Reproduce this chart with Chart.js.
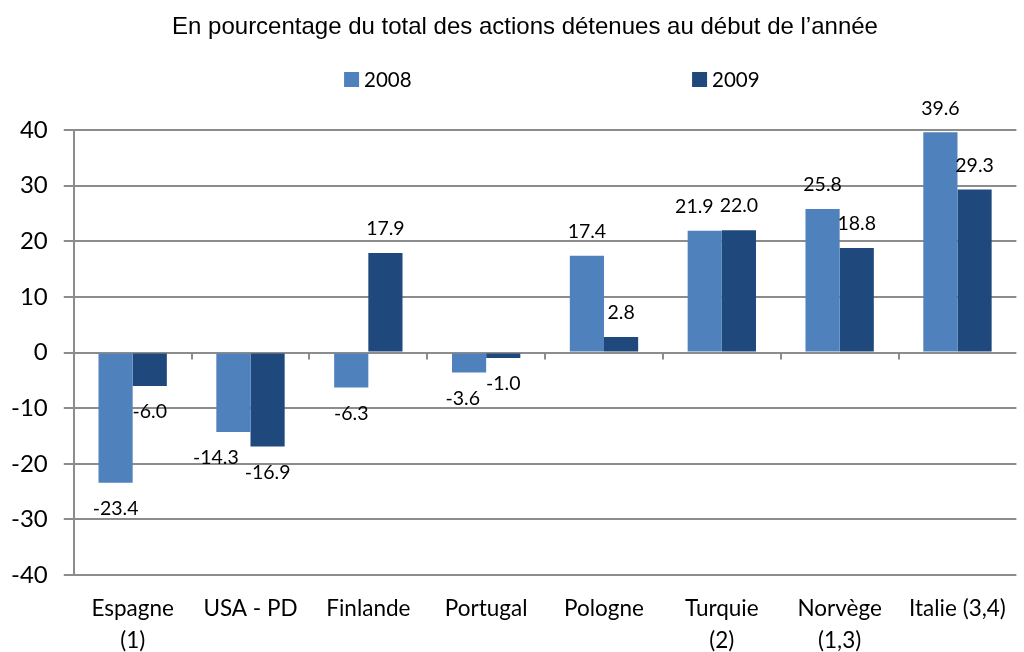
<!DOCTYPE html>
<html>
<head>
<meta charset="utf-8">
<script src="https://cdn.jsdelivr.net/npm/chart.js@4/dist/chart.umd.min.js"></script>
<style>
  html, body { margin: 0; padding: 0; background: #fff; }
  .wrap { width: 1024px; height: 652px; position: relative; }
</style>
</head>
<body>
<div class="wrap"><canvas id="actionsChart"></canvas></div>
<script>
// données
const pays = [
    ['Espagne', '(1)'], 'USA - PD', 'Finlande', 'Portugal', 'Pologne',
    ['Turquie', '(2)'], ['Norvège', '(1,3)'], 'Italie (3,4)'
];
const valeurs2008 = [-23.4, -14.3, -6.3, -3.6, 17.4, 21.9, 25.8, 39.6];
const valeurs2009 = [-6.0, -16.9, 17.9, -1.0, 2.8, 22.0, 18.8, 29.3];
const seriesLabels = ['2008', '2009'];
const yTicks = [-40, -30, -20, -10, 0, 10, 20, 30, 40];
const titre = 'En pourcentage du total des actions détenues au début de l’année';

const couleurs = ['#4F81BD', '#1F497D'];
const gris = '#8c8c8c';
const police = 'Lato, "Open Sans", sans-serif';
const tailleEtiquette = 19.5;

// titre, légende, étiquettes de valeurs et petites graduations sur l'axe zéro
const decorPlugin = {
    id: 'decor',
    afterDatasetsDraw(chart) {
        const ctx = chart.ctx;
        ctx.save();
        ctx.fillStyle = '#000';
        ctx.font = tailleEtiquette + 'px ' + police;
        ctx.textAlign = 'center';
        ctx.textBaseline = 'middle';

        // positions des étiquettes
        const pos = chart.data.datasets.map((ds, i) =>
            chart.getDatasetMeta(i).data.map((bar, j) => {
                const v = ds.data[j];
                const txt = v.toFixed(1);
                return {
                    txt,
                    x: bar.x,
                    y: v >= 0 ? bar.y - 24 : bar.y + 26,
                    w: ctx.measureText(txt).width
                };
            })
        );
        // si les deux étiquettes d'une catégorie se chevauchent, décaler la première à gauche
        pos[0].forEach((a, j) => {
            const b = pos[1][j];
            const chevauche = Math.abs(a.y - b.y) < tailleEtiquette &&
                (a.x + a.w / 2) > (b.x - b.w / 2) - 2;
            if (chevauche) a.x = (b.x - b.w / 2) - 6 - a.w / 2;
        });
        pos.forEach(serie => serie.forEach(p => ctx.fillText(p.txt, p.x, p.y)));

        // graduations de l'axe des catégories, à la ligne zéro
        const xs = chart.scales.x, ys = chart.scales.y;
        const y0 = ys.getPixelForValue(0);
        ctx.strokeStyle = gris;
        ctx.lineWidth = 2;
        for (let k = 1; k < pays.length; k++) {
            const x = Math.round((xs.getPixelForTick(k - 1) + xs.getPixelForTick(k)) / 2);
            ctx.beginPath();
            ctx.moveTo(x, y0);
            ctx.lineTo(x, y0 + 7);
            ctx.stroke();
        }
        ctx.restore();
    },
    afterDraw(chart) {
        const ctx = chart.ctx;
        const area = chart.chartArea;
        ctx.save();
        ctx.fillStyle = '#000';
        ctx.font = '24px "Liberation Sans", Arial, sans-serif';
        ctx.textAlign = 'center';
        ctx.textBaseline = 'middle';
        ctx.fillText(titre, chart.width / 2 + 13, 27);

        // légende
        const cx = (area.left + area.right) / 2;
        const decalages = [-201, 147];
        ctx.font = '20.5px ' + police;
        ctx.textAlign = 'left';
        seriesLabels.forEach((lab, i) => {
            const x = cx + decalages[i];
            ctx.fillStyle = couleurs[i];
            ctx.fillRect(x, 72, 15, 15);
            ctx.fillStyle = '#000';
            ctx.fillText(lab, x + 20, 80);
        });
        ctx.restore();
    }
};

const ctx = document.getElementById('actionsChart').getContext('2d');
const chartInstance = new Chart(ctx, {
    type: 'bar',
    data: {
        labels: pays,
        datasets: [
            { label: seriesLabels[0], data: valeurs2008, backgroundColor: couleurs[0] },
            { label: seriesLabels[1], data: valeurs2009, backgroundColor: couleurs[1] }
        ]
    },
    options: {
        responsive: true,
        maintainAspectRatio: false,
        animation: false,
        datasets: { bar: { categoryPercentage: 0.58, barPercentage: 1.0 } },
        layout: { padding: { top: 130, left: -5, right: 2, bottom: -23 } },
        scales: {
            x: {
                grid: { display: false, drawTicks: false },
                border: { display: false },
                ticks: {
                    color: '#000',
                    font: { family: police, size: 22.5, lineHeight: 1.42 },
                    padding: 18,
                    maxRotation: 0,
                    autoSkip: false
                }
            },
            y: {
                min: -40,
                max: 40,
                afterBuildTicks: axis => { axis.ticks = yTicks.map(v => ({ value: v })); },
                grid: { color: gris, lineWidth: 2, tickLength: 10 },
                border: { color: gris, width: 2 },
                ticks: {
                    color: '#000',
                    font: { family: police, size: 24 },
                    padding: 16
                }
            }
        },
        plugins: {
            legend: { display: false },
            title: { display: false },
            tooltip: { enabled: false }
        }
    },
    plugins: [decorPlugin]
});
</script>
</body>
</html>
